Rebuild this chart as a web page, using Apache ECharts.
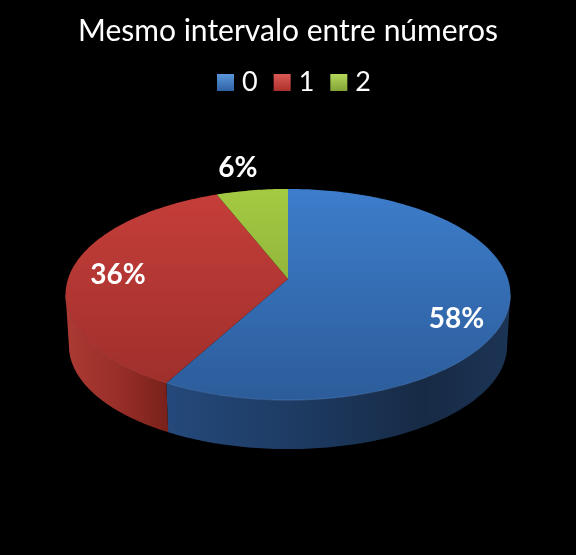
<!DOCTYPE html>
<html><head><meta charset="utf-8">
<style>html,body{margin:0;padding:0;background:#000}#c{width:576px;height:555px}</style>
<script src="https://cdn.jsdelivr.net/npm/echarts@6/dist/echarts.min.js"></script>
</head><body><div id="c"></div>
<script>
const chartTitle = 'Mesmo intervalo entre números';
const categories = ['0', '1', '2'];
const percentages = [58, 36, 6];

// Appearance of each slice
const labelRadius = [0.78, 0.78, 1.3];
const labelNudge = [[-2.5, 19], [0, 1], [-5, 0]];
const topStops = [
  [[0,'#3d7dcb'],[1,'#2c5c9a']],
  [[0,'#c63e3a'],[1,'#9c2e2a']],
  [[0,'#a4ca42'],[1,'#7c9a32']]
];
const sideStops = [
  [[0,'#24497b'],[0.4,'#1d3a61'],[0.75,'#172a45'],[1,'#1c3455']],
  [[0,'#ab3a33'],[0.5,'#9a2f29'],[1,'#7a211b']],
  [[0,'#7c9a32'],[1,'#7c9a32']]
];
const rimColor = ['#5f93d6', '#d4524d', '#a6cc42'];
const legendStops = [
  [[0,'#5a96dc'],[1,'#2f62a4']],
  [[0,'#dc5a56'],[1,'#ab302c']],
  [[0,'#b4d85a'],[1,'#83a336']]
];

// Projection of the tilted disc (perspective)
const cx = 288, apexY = 279, R = 220, B = 103.3, k = 0.147;
const baseScaleX = 0.985, baseScaleY = 0.98, baseShift = 57;
const total = percentages.reduce((a, b) => a + b, 0);

function project(deg, r) {
  const t = deg * Math.PI / 180, u = Math.sin(t) * r, v = Math.cos(t) * r, w = 1 + k * v;
  return [cx + R * u / w, apexY - B * v / w];
}
function toBase(p) {
  return [cx + (p[0] - cx) * baseScaleX, p[1] * baseScaleY + baseShift];
}
function arc(a, b) {
  const pts = [], n = Math.max(2, Math.ceil(Math.abs(b - a)));
  for (let i = 0; i <= n; i++) pts.push(project(a + (b - a) * i / n, 1));
  return pts;
}
function grad(x, y, x2, y2, colorStops) {
  return { type: 'linear', x, y, x2, y2, global: true,
    colorStops: colorStops.map(s => ({ offset: s[0], color: s[1] })) };
}
const visibleFrom = 98.5, visibleTo = 261.5;

function renderSlice(idx) {
  return function (params, api) {
    const value = api.value(0);
    let before = 0;
    for (let i = 0; i < idx; i++) before += percentages[i];
    const a0 = before / total * 360, a1 = a0 + value / total * 360;
    const children = [];
    const s0 = Math.max(a0, visibleFrom), s1 = Math.min(a1, visibleTo);
    if (s1 > s0) {
      const front = arc(s0, s1);
      const back = front.map(toBase).reverse();
      const xs = front.map(p => p[0]);
      children.push({ type: 'polygon', shape: { points: front.concat(back) },
        style: { fill: grad(Math.min(...xs), 0, Math.max(...xs), 0, sideStops[idx]) } });
    }
    children.push({ type: 'polygon',
      shape: { points: [[cx, apexY]].concat(arc(a0, a1)) },
      style: { fill: grad(0, 189, 0, 400, topStops[idx]) } });
    if (s1 > s0) {
      children.push({ type: 'polyline', shape: { points: arc(s0, s1) },
        style: { fill: 'none', stroke: rimColor[idx], lineWidth: 1, opacity: 0.4 } });
    }
    const mid = project((a0 + a1) / 2, labelRadius[idx]);
    children.push({ type: 'text', z2: 10, style: {
      x: mid[0] + labelNudge[idx][0], y: mid[1] + labelNudge[idx][1],
      text: Math.round(value / total * 100) + '%',
      fill: '#fff', align: 'center', verticalAlign: 'middle',
      font: 'bold 28px Lato, sans-serif' } });
    return { type: 'group', children };
  };
}

const chart = echarts.init(document.getElementById('c'), null, { renderer: 'canvas' });
chart.setOption({
  backgroundColor: '#000',
  animation: false,
  title: { text: chartTitle, left: 'center', top: 11,
    textStyle: { color: '#fff', fontFamily: 'Lato, sans-serif', fontWeight: 'normal', fontSize: 30 } },
  legend: { top: 64, left: 212, itemWidth: 17, itemHeight: 17, itemGap: 16,
    selectedMode: false,
    textStyle: { color: '#fff', fontFamily: 'Lato, sans-serif', fontSize: 27, padding: [0, 0, 0, 3] },
    data: categories.map((c, i) => ({ name: c, icon: 'rect',
      itemStyle: { color: { type: 'linear', x: 0, y: 0, x2: 0, y2: 1,
        colorStops: legendStops[i].map(s => ({ offset: s[0], color: s[1] })) } } })) },
  series: categories.map((c, i) => ({
    type: 'custom', name: c, coordinateSystem: 'none', silent: true,
    z: 2 + i,
    itemStyle: { color: topStops[i][0][1] },
    data: [[percentages[i]]],
    renderItem: renderSlice(i)
  }))
});
</script></body></html>
